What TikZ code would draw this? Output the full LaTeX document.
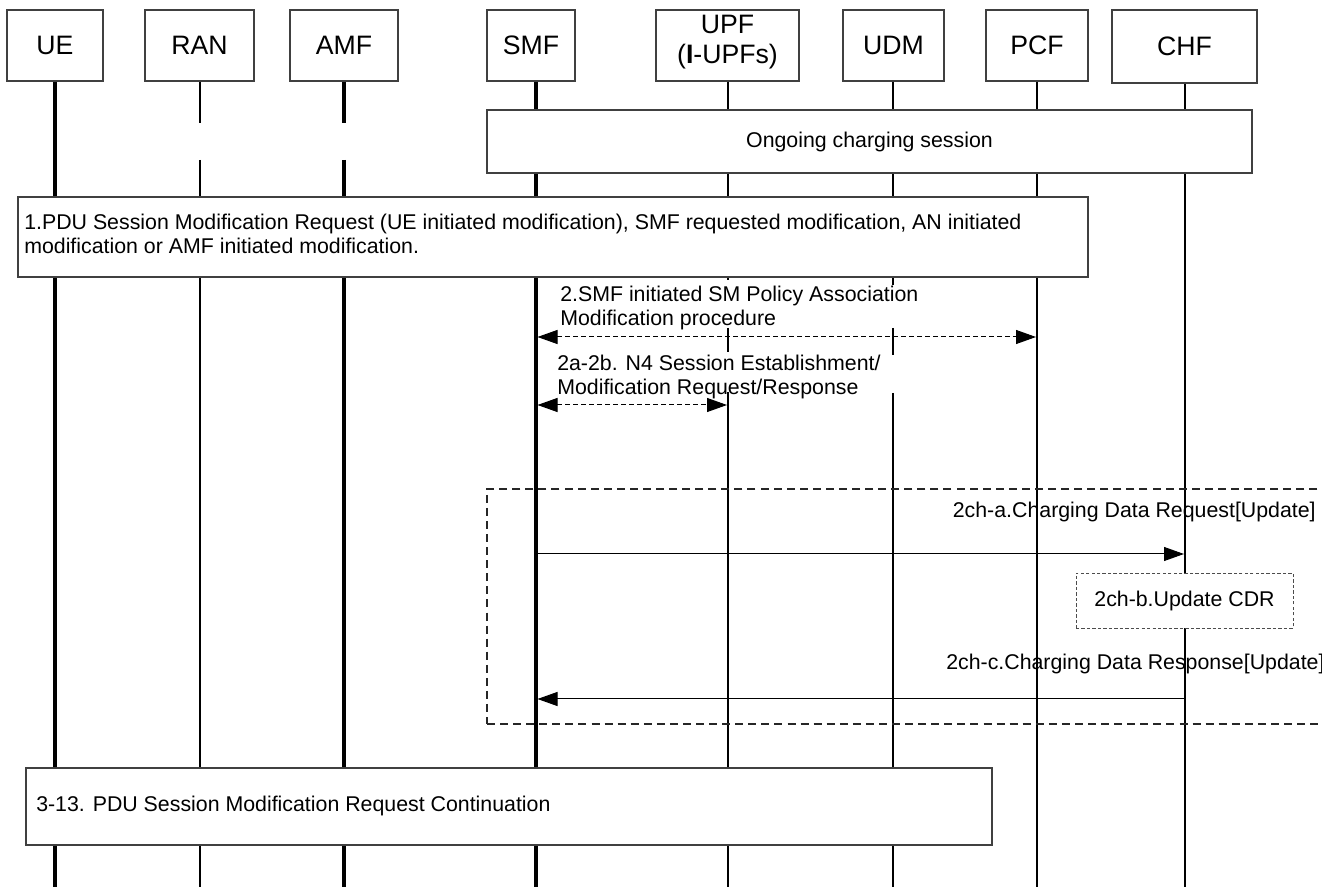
\documentclass[tikz,border=0pt]{standalone}
\usepackage{fontspec}
\setmainfont{Liberation Sans}
\usetikzlibrary{arrows.meta}
\begin{document}
\begin{tikzpicture}[x=0.75pt,y=-0.75pt,
  every node/.style={font=\fontsize{16}{18}\selectfont, inner sep=0pt},
  hdr/.style={draw=black!75, line width=0.8pt, fill=white, font=\fontsize{20}{23}\selectfont, align=center},
  procbox/.style={draw=black!75, line width=0.8pt, fill=white},
  thickline/.style={line width=2.3pt},
  thinline/.style={line width=1.3pt},
  tipa/.tip={Triangle[length=15pt,width=10.5pt]},
  msg/.style={line width=0.75pt, -tipa},
  dmsg/.style={line width=0.75pt, dash pattern=on 3.6pt off 2.4pt, tipa-tipa},
  grp/.style={draw=black!85, line width=0.8pt, dash pattern=on 6pt off 3.8pt},
  cdrbox/.style={draw=black!70, line width=0.7pt, dash pattern=on 2.5pt off 1.6pt, fill=white}
]
\clip (0,0) rectangle (1322,887);
\fill[white] (0,0) rectangle (1322,887);

% headers
\node[hdr, minimum width=72pt, minimum height=53.25pt] (ue) at (55,45.5) {UE};
\node[hdr, minimum width=81.75pt, minimum height=53.25pt] (ran) at (199.5,45.5) {RAN};
\node[hdr, minimum width=81pt, minimum height=53.25pt] (amf) at (344,45.5) {AMF};
\node[hdr, minimum width=66pt, minimum height=53.25pt] (smf) at (531,45.5) {SMF};
\node[hdr, minimum width=107.25pt, minimum height=53.25pt] (upf) at (727.5,45.5) {};
\node[font=\fontsize{20}{23}\selectfont, align=center] (upft) at (727.5,42) {UPF\\(\textbf{I}-UPFs)};
\node[hdr, minimum width=75.75pt, minimum height=53.25pt] (udm) at (893.5,45.5) {UDM};
\node[hdr, minimum width=76.5pt, minimum height=53.25pt] (pcf) at (1037,45.5) {PCF};
\node[hdr, minimum width=108.75pt, minimum height=54.75pt] (chf) at (1184.5,46.5) {CHF};

% lifelines
\coordinate (ueB) at (55,890);
\coordinate (ranB) at (200,890);
\coordinate (amfB) at (344,890);
\coordinate (smfB) at (536,890);
\coordinate (upfB) at (728,890);
\coordinate (udmB) at (893,890);
\coordinate (pcfB) at (1037,890);
\coordinate (chfB) at (1185,890);
\draw[thickline] (ue.south) -- (ueB);
\draw[thinline] (ran.south -| ranB) -- (200,123) (200,160) -- (ranB);
\draw[thickline] (amf.south) -- (344,123) (344,160) -- (amfB);
\draw[thickline] (smf.south -| smfB) -- (smfB);
\draw[thinline] (upf.south -| upfB) -- (728,280) (728,328) -- (728,352) (728,392) -- (upfB);
\draw[thinline] (udm.south -| udmB) -- (893,285) (893,328) -- (893,355) (893,393) -- (udmB);
\draw[thinline] (pcf.south) -- (pcfB);
\draw[thinline] (chf.south -| chfB) -- (chfB);

% ongoing charging session
\node[procbox, minimum width=573.75pt, minimum height=47.25pt] (ongoing) at (869.5,141.5) {Ongoing charging session};

% step 1
\node[procbox, minimum width=802.5pt, minimum height=60pt] (b1) at (553,237) {};
\node[anchor=west, align=left] (b1t) at (24,234) {1.PDU Session Modification Request (UE initiated modification), SMF requested modification, AN initiated\\modification or AMF initiated modification.};

% step 2
\coordinate (s2) at (537.5,337);
\coordinate (p2) at (1036,337);
\draw[dmsg] (s2) -- (p2);
\node[anchor=west, align=left] (l2) at (560,308) {2.SMF initiated SM Policy Association\\Modification procedure};

% step 2a-2b
\coordinate (s2a) at (537.5,405);
\coordinate (u2a) at (727,405);
\draw[dmsg] (s2a) -- (u2a);
\node[anchor=west, align=left] (l2a) at (557,377) {2a-2b. N4 Session Establishment/\\Modification Request/Response};

% charging group
\node[grp, minimum width=639.75pt, minimum height=176.25pt] (grpbox) at (913.5,606.5) {};
\node[anchor=east] (l2cha) at (1316,512) {2ch-a.Charging Data Request[Update]};
\coordinate (sa) at (537.5,554);
\coordinate (ca) at (1184,554);
\draw[msg] (sa) -- (ca);
\node[cdrbox, minimum width=162.75pt, minimum height=41.25pt] (cdr) at (1184.5,600.5) {2ch-b.Update CDR};
\node[anchor=west] (l2chc) at (946,664) {2ch-c.Charging Data Response[Update]};
\coordinate (cc) at (1185,699);
\coordinate (sc) at (537.5,699);
\draw[msg] (cc) -- (sc);

% step 3-13
\node[procbox, minimum width=724.5pt, minimum height=57.75pt] (b3) at (509,806.5) {};
\node[anchor=west] (b3t) at (36,806) {3-13. PDU Session Modification Request Continuation};
\end{tikzpicture}
\end{document}
